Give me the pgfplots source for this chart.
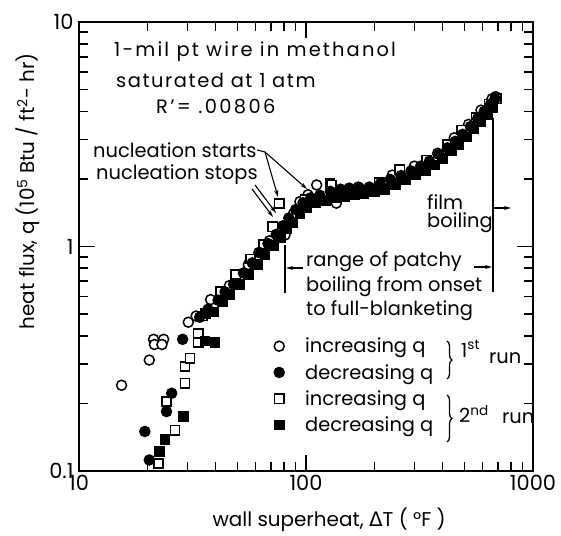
\documentclass[border=0pt]{standalone}
\usepackage{pgfplots}
\pgfplotsset{compat=1.18}
\usepackage{fontspec}
\setmainfont{Poppins}
\newfontfamily\dejavu{DejaVu Sans}
\usetikzlibrary{arrows.meta,decorations.pathreplacing}
\tikzset{
  ocirc/.style={only marks, mark=*, mark size=5bp, mark options={fill=white,draw=black,line width=1.5bp}},
  fcirc/.style={only marks, mark=*, mark size=5bp, mark options={fill=black,draw=black,line width=1.5bp}},
  osq/.style={only marks, mark=square*, mark size=4.6bp, mark options={fill=white,draw=black,line width=1.5bp}},
  fsq/.style={only marks, mark=square*, mark size=4.6bp, mark options={fill=black,draw=black,line width=1.5bp}},
  ann/.style={font=\fontsize{19.5}{22}\selectfont, inner sep=0pt},
  arr/.style={line width=1.1bp, -{Stealth[length=7bp,width=4bp]}},
}
\begin{document}
\begin{tikzpicture}
\begin{axis}[
  at={(0,0)}, anchor=south west,
  scale only axis, width=454bp, height=449bp,
  xmode=log, ymode=log,
  xmin=10, xmax=1000, ymin=0.1, ymax=10,
  xtick={10,100,1000}, xticklabels={10,100,1000},
  ytick={0.1,1,10}, yticklabels={0.1,1,10},
  minor xtick={20,30,40,50,60,70,80,90,200,300,400,500,600,700,800,900},
  minor ytick={0.2,0.3,0.4,0.5,0.6,0.7,0.8,0.9,2,3,4,5,6,7,8,9},
  tick align=inside,
  major tick length=16bp, minor tick length=9bp,
  axis line style={line width=2.2bp},
  every tick/.style={black, line width=1.6bp},
  ticklabel style={font=\fontsize{21}{21}\selectfont},
  xticklabel style={yshift=-1bp},
  yticklabel style={xshift=-2bp},
  xlabel={wall superheat, {\dejavu Δ}T ( °F )},
  ylabel={heat flux, q (10\textsuperscript{5} Btu / ft\textsuperscript{2}- hr)},
  label style={font=\fontsize{20}{22}\selectfont},
  xlabel style={at={(axis description cs:0.551,-0.109)},anchor=center},
  ylabel style={at={(axis description cs:-0.112,0.623)},anchor=center},
  legend style={draw=none, fill=none, at={(axis description cs:0.4295,0.301)}, anchor=north west,
    font=\fontsize{19.5}{22}\selectfont, nodes={font=\fontsize{19.5}{22}\selectfont}, inner sep=0pt, row sep=6bp, column sep=19bp},
  legend cell align=left,
  legend image code/.code={\draw[#1] plot coordinates {(0bp,0bp)};},
]
% 1st run, increasing q (open circles)
\addplot[ocirc, forget plot] coordinates {
(15.4,0.241) (20.4,0.312) (21.3,0.386) (23.6,0.386) (21.5,0.366) (23.2,0.366)
(30.3,0.46) (32.8,0.49) (38,0.58) (46,0.67) (55.7,0.83) (62,0.94) (69,1.06)
(80.8,1.125) (88,1.40) (94,1.585) (102,1.70) (111.4,1.88) (136,1.56) (170,1.84)
(240,2.08) (300,2.28) (380,2.60) (450,3.05) (520,3.50) (590,4.05) (660,4.55) (685,4.65)
};
% 2nd run, increasing q (open squares)
\addplot[osq, forget plot] coordinates {
(22.4,0.108) (26.5,0.152) (24.3,0.204) (29.3,0.246) (29.3,0.292) (30.8,0.318)
(33.5,0.375) (33.5,0.41) (35,0.49) (42,0.63) (49,0.75) (57,0.88) (65,1.02)
(71.3,1.225) (76.3,1.556) (99,1.62) (127.6,1.91) (129.7,1.88) (210,1.93) (259,2.20)
(340,2.42) (420,2.85) (485,3.30) (560,3.75) (640,4.30) (690,4.55)
};
% 1st run, decreasing q (filled circles)
\addplot[fcirc, forget plot] coordinates {
(19.5,0.150) (20.4,0.112) (24.3,0.184) (25.6,0.222) (28.6,0.386)
(34,0.484) (37,0.525) (41,0.577) (44,0.628) (48,0.68) (53,0.762) (58,0.845) (63,0.937)
(68,1.03) (74,1.133) (79,1.236) (84,1.339) (90,1.46) (97,1.566) (105,1.648) (115,1.69)
(128,1.76) (142,1.80) (155,1.82) (172,1.82) (190,1.84) (212,1.90) (235,1.99)
(262,2.07) (290,2.17) (320,2.28) (350,2.40) (385,2.57) (420,2.75) (455,2.94)
(490,3.16) (530,3.42) (570,3.71) (610,4.00) (650,4.30) (680,4.55)
};
% 2nd run, decreasing q (filled squares)
\addplot[fsq, forget plot] coordinates {
(22.7,0.122) (23.9,0.138) (28.8,0.175) (35.9,0.38) (39.7,0.375)
(36,0.502) (39,0.511) (43,0.569) (46,0.608) (51,0.676) (56,0.753) (61,0.83) (66,0.917)
(72,1.013) (77,1.10) (82,1.197) (87,1.283) (94,1.40) (101,1.496) (110,1.563) (122,1.60)
(135,1.65) (148,1.67) (163,1.70) (180,1.72) (200,1.75) (222,1.80) (248,1.89)
(275,1.98) (305,2.08) (335,2.18) (368,2.31) (400,2.47) (438,2.66) (472,2.85)
(510,3.07) (550,3.34) (590,3.61) (630,3.88) (665,4.15)
};
\addlegendimage{ocirc}\addlegendentry{increasing q}
\addlegendimage{fcirc}\addlegendentry{decreasing q}
\addlegendimage{osq}\addlegendentry{increasing q}
\addlegendimage{fsq}\addlegendentry{decreasing q}
\end{axis}
\begin{scope}[shift={(-79bp,471bp)},x=1bp,y=-1bp]
\path (0,0) rectangle (561,531);
% title block
\node[ann,anchor=west] at (114,52) {\addfontfeatures{LetterSpace=11}1-mil pt wire in methanol};
\node[ann,anchor=west] at (116,80) {\addfontfeatures{LetterSpace=8}saturated at 1 atm};
\node[ann,anchor=west] at (156,107) {\addfontfeatures{LetterSpace=12}R’= .00806};
% nucleation
\node[ann,anchor=west] at (93,150) {nucleation starts};
\draw[line width=1.1bp] (257,150) -- (265,152);
\draw[arr] (265,152) -- (278,197);
\draw[arr] (265,152) -- (307,189);
\node[ann,anchor=west] at (96,175) {nucleation stops};
\draw[arr] (255,185) -- (276,213);
\draw[arr] (252,189) -- (273,217);
% patchy boiling range
\draw[line width=1.1bp] (285,245) -- (285,293);
\draw[arr] (303,268) -- (286,268);
\draw[line width=1.1bp] (493,118) -- (493,292);
\draw[arr] (474,267) -- (492,267);
\draw[arr] (494,208) -- (511,208);
\node[ann,anchor=west] at (306,262) {range of patchy};
\node[ann,anchor=west] at (306,287) {boiling from onset};
\node[ann,anchor=west] at (306,311) {to full-blanketing};
\node[ann,anchor=west] at (427,202) {film};
\node[ann,anchor=west] at (427,223) {boiling};
% run braces
\draw[line width=1.3bp,decorate,decoration={brace,amplitude=5bp}] (447,341) -- (447,379);
\draw[line width=1.3bp,decorate,decoration={brace,amplitude=5bp}] (447,395) -- (447,442);
\node[ann,anchor=west] at (461,349) {1\textsuperscript{st}};
\node[ann,anchor=west] at (489,358) {run};
\node[ann,anchor=west] at (459,414) {2\textsuperscript{nd}};
\node[ann,anchor=west] at (502,418) {run};
\end{scope}
\end{tikzpicture}
\end{document}
